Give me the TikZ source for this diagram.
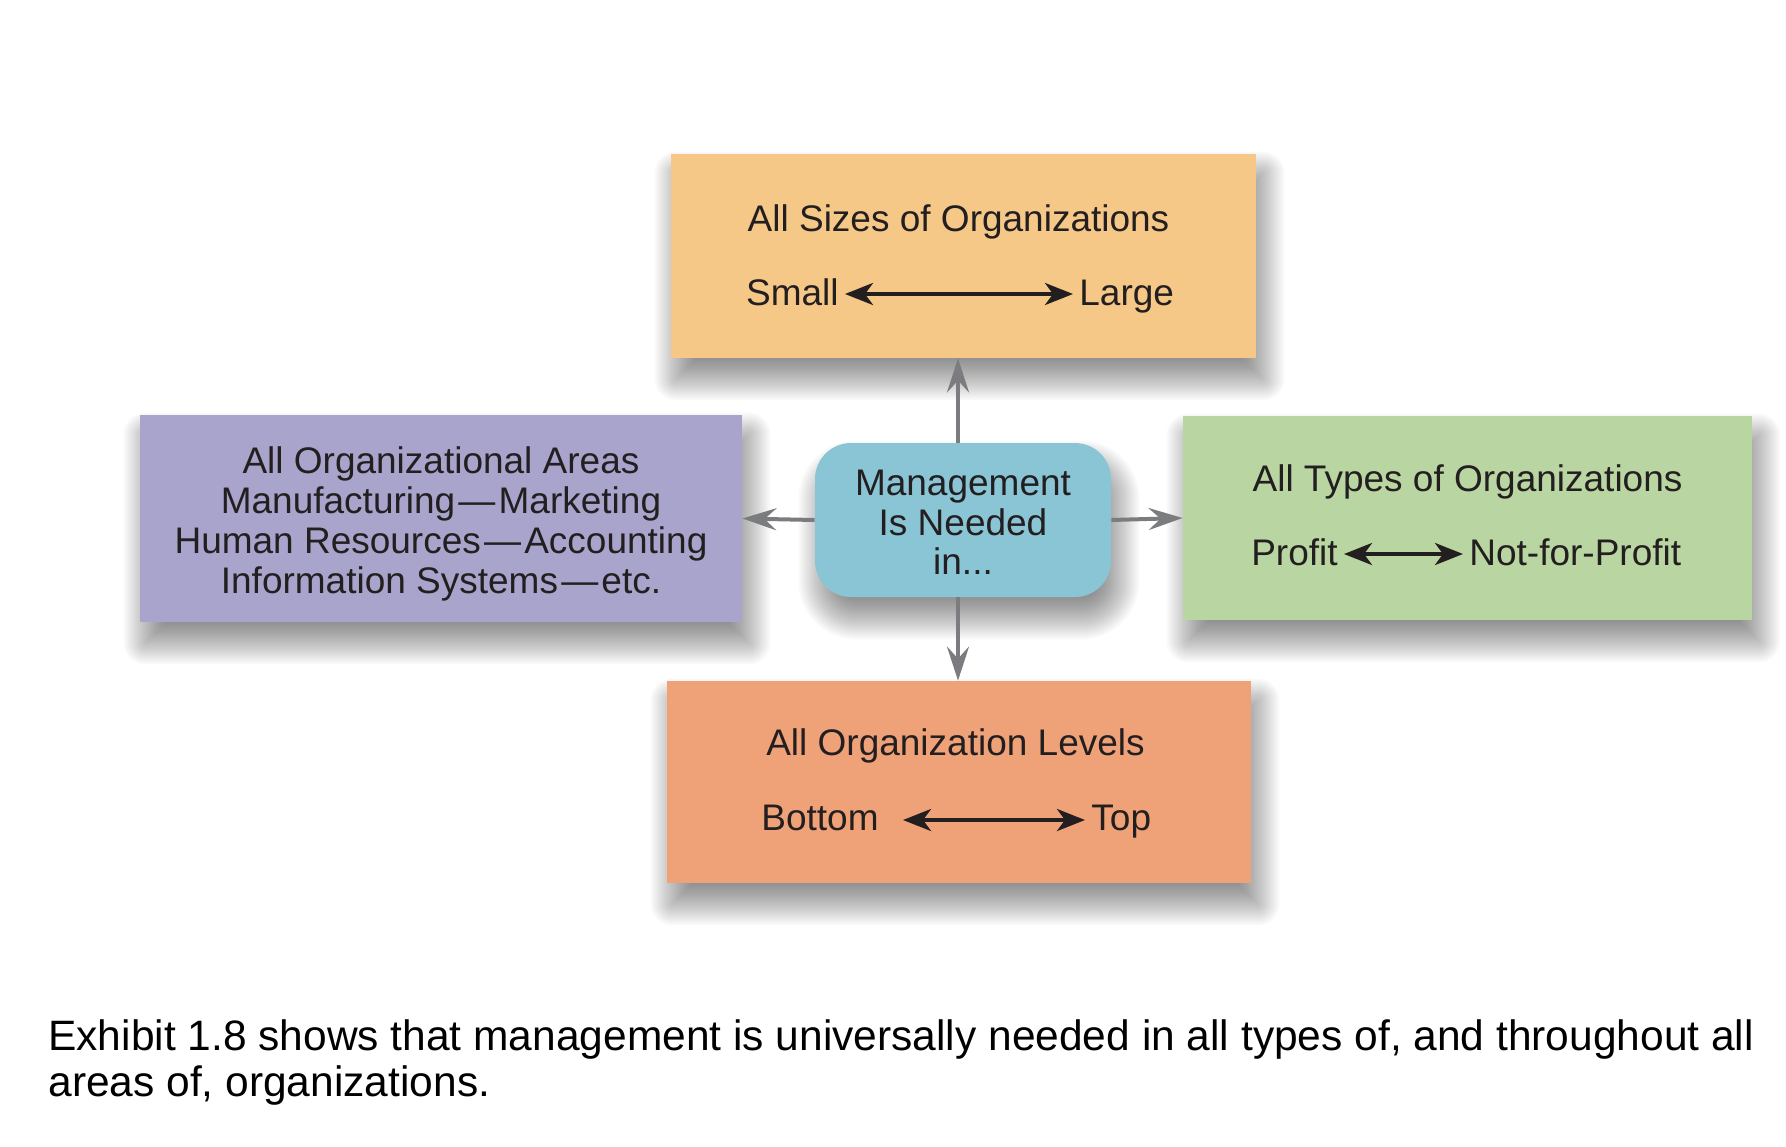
\documentclass[tikz,border=0pt]{standalone}
\usepackage{fontspec}
\setmainfont{Liberation Sans}
\usetikzlibrary{arrows.meta,backgrounds}
\definecolor{orangebox}{HTML}{F5C888}
\definecolor{purplebox}{HTML}{A9A4CB}
\definecolor{bluebox}{HTML}{8AC5D6}
\definecolor{greenbox}{HTML}{B9D5A1}
\definecolor{salmonbox}{HTML}{EFA278}
\definecolor{txt}{HTML}{231F20}
\definecolor{grayarr}{HTML}{7B7C7F}
\newcommand{\boxfont}{\fontsize{18.5}{20}\selectfont}
\newcommand{\capfont}{\fontsize{21.25}{25}\selectfont}
\newcommand{\dashsep}{\kern1.6pt---\kern1.6pt}
% soft shadow: #1 node, #2 base corner rounding (pt)
\newcommand{\softshadow}[2]{%
  \foreach \e in {11,10,...,-9}{%
    \pgfmathsetmacro{\rc}{max(#2+\e,0.5)}%
    \fill[black, opacity=0.022, rounded corners=\rc pt]
      ([xshift=3pt-\e pt, yshift=-10pt-\e pt]#1.south west) rectangle
      ([xshift=3pt+\e pt, yshift=-10pt+\e pt]#1.north east);
  }%
}
\begin{document}
\begin{tikzpicture}[x=0.5pt,y=-0.5pt,
  card/.style={rectangle, inner sep=0pt, draw=none},
  hub/.style={rectangle, rounded corners=18pt, inner sep=0pt, draw=none, fill=bluebox},
  lbl/.style={inner sep=0pt, font=\boxfont, text=txt},
  caption/.style={inner sep=0pt, font=\capfont, text=black},
  biarrow/.style={draw=txt, line width=1.9pt, {Stealth[length=14pt,width=11pt,inset=4pt]}-{Stealth[length=14pt,width=11pt,inset=4pt]}},
  grayarrow/.style={draw=grayarr, line width=2pt, -{Stealth[length=17pt,width=11pt,inset=6pt]}}
]
\useasboundingbox (0,0) rectangle (1786,1146);

% boxes
\node[card, fill=orangebox, minimum width=292.5pt, minimum height=102pt] (top) at (963.5,256) {};
\node[card, fill=purplebox, minimum width=301pt, minimum height=103.5pt] (left) at (441,518.5) {};
\node[card, fill=greenbox, minimum width=284.5pt, minimum height=102pt] (right) at (1467.5,518) {};
\node[card, fill=salmonbox, minimum width=292pt, minimum height=101pt] (bottom) at (959,782) {};
\node[hub, minimum width=148pt, minimum height=77pt] (mid) at (963,520) {};

\begin{scope}[on background layer]
  \fill[white] (0,0) rectangle (1786,1146);
  \softshadow{top}{0}
  \softshadow{left}{0}
  \softshadow{right}{0}
  \softshadow{bottom}{0}
  \softshadow{mid}{18}
\end{scope}

% connectors from the hub
\coordinate (vx) at (958,0);
\draw[grayarrow] (mid.north -| vx) -- (top.south -| vx);
\draw[grayarrow] (mid.south -| vx) -- (bottom.north -| vx);
\draw[grayarrow] (mid.west) -- (left.east);
\draw[grayarrow] (mid.east) -- (right.west);

% hub text
\node[lbl, anchor=base] (m1) at (963,495) {Management};
\node[lbl, anchor=base] (m2) at (963,535) {Is Needed};
\node[lbl, anchor=base] (m3) at (963,574) {in...};

% top box
\node[lbl, anchor=base] (topT) at (958.5,231) {All Sizes of Organizations};
\node[lbl, anchor=base east] (small) at (839,305) {Small};
\node[lbl, anchor=base west] (large) at (1079,305) {Large};
\draw[biarrow] ([xshift=3pt,yshift=5.5pt]small.base east) -- ([xshift=-3pt,yshift=5.5pt]large.base west);

% left box
\node[lbl, anchor=base] (l1) at (441,473) {All Organizational Areas};
\node[lbl, anchor=base] (l2) at (441,513) {Manufacturing\dashsep Marketing};
\node[lbl, anchor=base] (l3) at (441,553) {Human Resources\dashsep Accounting};
\node[lbl, anchor=base] (l4) at (441,593) {Information Systems\dashsep etc.};

% right box
\node[lbl, anchor=base] (rightT) at (1467.5,491) {All Types of Organizations};
\node[lbl, anchor=base east] (profit) at (1338,565) {Profit};
\node[lbl, anchor=base west] (nfp) at (1469,565) {Not-for-Profit};
\draw[biarrow] ([xshift=3pt,yshift=5.5pt]profit.base east) -- ([xshift=-3pt,yshift=5.5pt]nfp.base west);

% bottom box
\node[lbl, anchor=base] (botT) at (955.5,755) {All Organization Levels};
\node[lbl, anchor=base east] (bottomlbl) at (879,830) {Bottom};
\node[lbl, anchor=base west] (toplbl) at (1091,830) {Top};
\draw[biarrow] ([xshift=12pt,yshift=5pt]bottomlbl.base east) -- ([xshift=-3pt,yshift=5pt]toplbl.base west);

% caption
\node[caption, anchor=base west] (cap1) at (48,1050) {Exhibit 1.8 shows that management is universally needed in all types of, and throughout all};
\node[caption, anchor=base west] (cap2) at (48,1096) {areas of, organizations.};
\end{tikzpicture}
\end{document}
